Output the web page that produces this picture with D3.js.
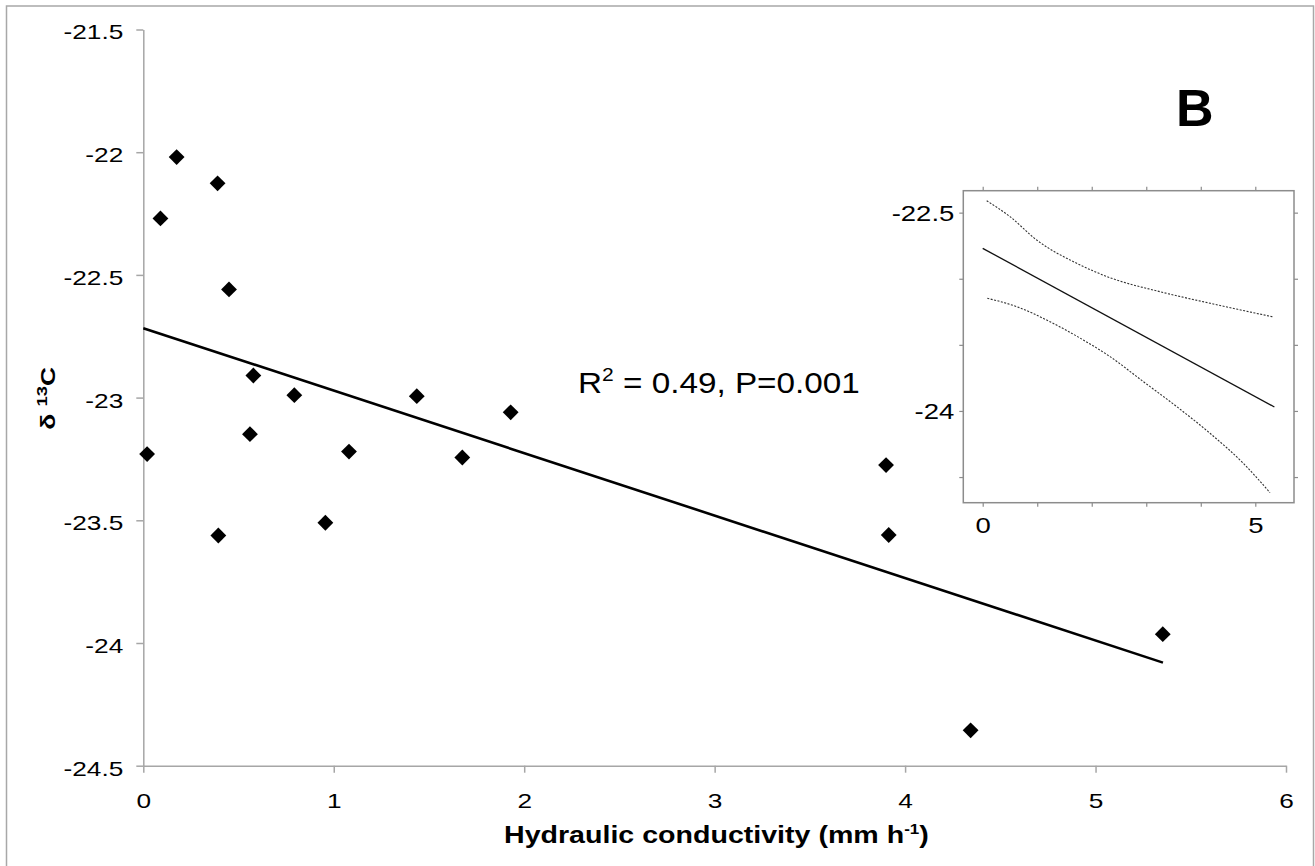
<!DOCTYPE html>
<html><head><meta charset="utf-8">
<script src="https://cdn.jsdelivr.net/npm/d3@7"></script>
<style>
body{margin:0;background:#fff;}
svg{display:block;font-family:"Liberation Sans",Arial,sans-serif;}
</style></head><body>
<svg id="chart" width="1315" height="866"></svg>
<script>
// ---- data ----
const hydraulicConductivity = [0.02,0.09,0.175,0.39,0.45,0.578,0.56,0.394,0.793,0.956,1.08,1.436,1.675,1.929,3.9,3.914,4.344,5.353];
const delta13C = [-23.23,-22.27,-22.02,-22.127,-22.559,-22.91,-23.149,-23.562,-22.99,-23.51,-23.22,-22.994,-23.244,-23.06,-23.275,-23.56,-24.356,-23.964];
const fitX = [0, 5.354];
const fitY = [-22.717, -24.08];
const xTicks = [0,1,2,3,4,5,6];
const yTicks = [-21.5,-22,-22.5,-23,-23.5,-24,-24.5];
const statText = ["R", "2", " = 0.49, P=0.001"];
const panelLabel = "B";
const xTitle = ["Hydraulic conductivity (mm h", "-1", ")"];
const yTitle = ["δ ", "13", "C"];
// inset
const insetFitX = [0, 5.35];
const insetFitY = [-22.77, -23.97];
const insetUpperX = [0.073,0.5,0.99,1.724,2.335,3.252,4.169,5.33];
const insetUpperY = [-22.41,-22.53,-22.707,-22.883,-22.992,-23.098,-23.185,-23.289];
const insetLowerX = [0.084,0.624,1.234,1.845,2.335,2.946,3.558,4.169,4.78,5.27];
const insetLowerY = [-23.148,-23.211,-23.325,-23.463,-23.589,-23.778,-23.967,-24.169,-24.396,-24.618];
const insetXTicks = [0,1,2,3,4,5];
const insetXLabels = [0,5];
const insetYTicks = [-22.5,-23,-23.5,-24,-24.5];
const insetYLabels = [-22.5,-24];

// ---- layout ----
const svg = d3.select("#chart");
const axisColor = "#a6a6a6";
const SX = 1.25;

// outer frame
svg.append("rect").attr("x",6.5).attr("y",6).attr("width",1307).attr("height",900)
  .attr("fill","none").attr("stroke","#a8a8a8").attr("stroke-width",1.5);

const x = d3.scaleLinear().domain([0,6]).range([143.3,1286]);
const y = d3.scaleLinear().domain([-24.5,-21.5]).range([765.7,29.5]);

// axes
const gx = svg.append("g").attr("transform",`translate(0,${y(-24.5)})`)
  .call(d3.axisBottom(x).tickValues(xTicks).tickSize(7).tickSizeOuter(0).tickFormat(d=>String(d)));
const gy = svg.append("g").attr("transform",`translate(${x(0)},0)`)
  .call(d3.axisLeft(y).tickValues(yTicks).tickSize(7).tickSizeOuter(0).tickFormat(d=>String(d)));
[gx,gy].forEach(g=>{
  g.select(".domain").attr("stroke",axisColor).attr("stroke-width",1.5);
  g.selectAll(".tick line").attr("stroke",axisColor).attr("stroke-width",1.5);
  g.selectAll(".tick text").attr("fill","#000").attr("font-size",21)
   .attr("font-family","'Liberation Sans',Arial,sans-serif");
});
gx.selectAll(".tick text").attr("dy",0).attr("y",42).attr("transform",`scale(${SX},1)`);
gy.selectAll(".tick text").attr("dy","0.45em").attr("x",-20/SX).attr("transform",`scale(${SX},1)`);

// regression line
svg.append("path")
  .datum(d3.zip(fitX,fitY))
  .attr("d", d3.line().x(d=>x(d[0])).y(d=>y(d[1])))
  .attr("fill","none").attr("stroke","#000").attr("stroke-width",2.6);

// points
const sym = d3.symbol(d3.symbolSquare, 125);
svg.append("g").selectAll("path")
  .data(d3.zip(hydraulicConductivity, delta13C))
  .join("path")
  .attr("d", sym)
  .attr("transform", d=>`translate(${x(d[0])},${y(d[1])}) rotate(45)`)
  .attr("fill","#000");

// helper to stretch text horizontally to a target width
function placeText(t, tx, ty, target, rot) {
  const w = t.node().getBBox().width;
  const s = target / w;
  t.attr("transform", `translate(${tx},${ty})` + (rot ? ` rotate(${rot})` : "") + ` scale(${s},1)`);
}

// stat text
const st = svg.append("text").attr("x",0).attr("y",0).attr("font-size",30).attr("fill","#000");
st.append("tspan").text(statText[0]);
st.append("tspan").attr("font-size",19).attr("dy",-12).text(statText[1]);
st.append("tspan").attr("dy",12).text(statText[2]);
placeText(st, 578, 393.3, 282);

// panel label
svg.append("text").attr("x",1194.8).attr("y",125.7).attr("text-anchor","middle")
  .attr("font-size",52).attr("font-weight","bold").text(panelLabel);

// x title
const xt = svg.append("text").attr("x",0).attr("y",0).attr("font-size",23.5).attr("font-weight","bold");
xt.append("tspan").text(xTitle[0]);
xt.append("tspan").attr("font-size",14).attr("dy",-9).text(xTitle[1]);
xt.append("tspan").attr("dy",9).text(xTitle[2]);
placeText(xt, 504, 843, 425);

// y title
const yt = svg.append("text").attr("x",0).attr("y",0).attr("font-size",20).attr("font-weight","bold").attr("text-anchor","middle");
yt.append("tspan").text(yTitle[0]);
yt.append("tspan").attr("font-size",14).attr("dy",-8).text(yTitle[1]);
yt.append("tspan").attr("dy",8).text(yTitle[2]);
{
  const w = yt.node().getBBox().width;
  yt.attr("transform", `translate(55,398.3) rotate(-90) scale(${63/w},1)`);
}

// ---- inset ----
const xI = d3.scaleLinear().domain([-0.356,5.71]).range([963.3,1294]);
const yI = d3.scaleLinear().domain([-24.694,-22.334]).range([502.7,190.7]);
const inset = svg.append("g");
inset.append("rect").attr("x",xI.range()[0]).attr("y",yI.range()[1])
  .attr("width",xI.range()[1]-xI.range()[0]).attr("height",yI.range()[0]-yI.range()[1])
  .attr("fill","#fff").attr("stroke","#8c8c8c").attr("stroke-width",1.5);
const ic = "#8c8c8c";
const iaL = inset.append("g").attr("transform",`translate(${xI.range()[0]},0)`)
  .call(d3.axisLeft(yI).tickValues(insetYTicks).tickSize(4).tickSizeOuter(0)
    .tickFormat(d=>insetYLabels.includes(d)?String(d):""));
const iaR = inset.append("g").attr("transform",`translate(${xI.range()[1]},0)`)
  .call(d3.axisRight(yI).tickValues(insetYTicks).tickSize(4).tickSizeOuter(0).tickFormat(()=>""));
const iaT = inset.append("g").attr("transform",`translate(0,${yI.range()[1]})`)
  .call(d3.axisTop(xI).tickValues(insetXTicks).tickSize(4).tickSizeOuter(0).tickFormat(()=>""));
const iaB = inset.append("g").attr("transform",`translate(0,${yI.range()[0]})`)
  .call(d3.axisBottom(xI).tickValues(insetXTicks).tickSize(4).tickSizeOuter(0)
    .tickFormat(d=>insetXLabels.includes(d)?String(d):""));
[iaL,iaR,iaT,iaB].forEach(g=>{
  g.select(".domain").remove();
  g.selectAll(".tick line").attr("stroke",ic).attr("stroke-width",1.2);
  g.selectAll(".tick text").attr("fill","#000").attr("font-size",22)
   .attr("font-family","'Liberation Sans',Arial,sans-serif");
});
iaL.selectAll(".tick text").attr("x",-9/SX).attr("dy","0.36em").attr("transform",`scale(${SX},1)`);
iaB.selectAll(".tick text").attr("y",30).attr("dy",0).attr("transform",`scale(${SX},1)`);

inset.append("path").datum(d3.zip(insetFitX,insetFitY))
  .attr("d", d3.line().x(d=>xI(d[0])).y(d=>yI(d[1])))
  .attr("fill","none").attr("stroke","#111").attr("stroke-width",1.3);
const ciLine = d3.line().x(d=>xI(d[0])).y(d=>yI(d[1])).curve(d3.curveMonotoneX);
[[insetUpperX,insetUpperY],[insetLowerX,insetLowerY]].forEach(([a,b])=>{
  inset.append("path").datum(d3.zip(a,b)).attr("d",ciLine)
    .attr("fill","none").attr("stroke","#333").attr("stroke-width",1.1)
    .attr("stroke-dasharray","2,1.5");
});
</script>
</body></html>
